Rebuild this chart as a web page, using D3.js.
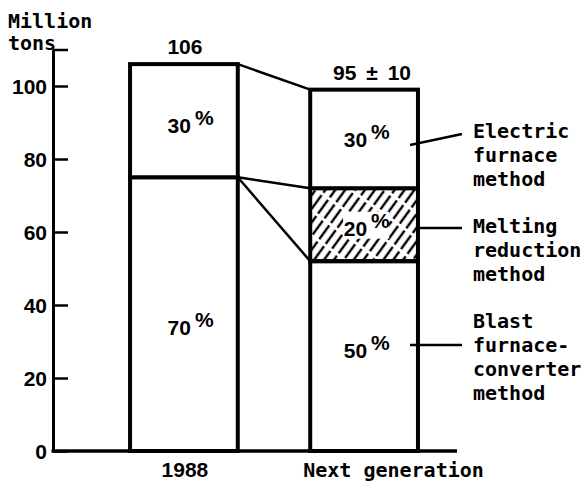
<!DOCTYPE html>
<html>
<head>
<meta charset="utf-8">
<script src="https://cdn.jsdelivr.net/npm/d3@7"></script>
<style>
  body { margin: 0; background: #fff; }
  .num { font-family: "Liberation Sans", Arial, sans-serif; font-weight: bold; font-size: 21px; }
  .pc { font-family: "Liberation Sans", Arial, sans-serif; font-weight: bold; font-size: 21px; }
  .mono { font-family: "DejaVu Sans Mono", monospace; font-weight: bold; font-size: 20px; }
</style>
</head>
<body>
<div id="chart"></div>
<script>
// data (million tons)
const categories = ["1988", "Next generation"];
const totalLabels = ["106", "95 ± 10"];
const blast = [75, 52];
const melting = [0, 20];
const electric = [31, 27];
const blastPct = ["70", "50"];
const meltingPct = [null, "20"];
const electricPct = ["30", "30"];
const yTicks = [0, 20, 40, 60, 80, 100];
const methods = [
  ["Electric", "furnace", "method"],
  ["Melting", "reduction", "method"],
  ["Blast", "furnace-", "converter", "method"]
];

const margin = {top: 0, left: 53},
    fullW = 586, fullH = 487;

const svg = d3.select("#chart")
  .append("svg")
    .attr("width", fullW)
    .attr("height", fullH);

// hatch for the melting reduction segment
svg.append("defs").append("pattern")
    .attr("id", "hatch")
    .attr("patternUnits", "userSpaceOnUse")
    .attr("width", 8).attr("height", 20)
    .attr("patternTransform", "rotate(36)")
  .append("line")
    .attr("x1", 4).attr("y1", 0).attr("x2", 4).attr("y2", 20)
    .attr("stroke", "#000").attr("stroke-width", 2.4)
    .attr("stroke-dasharray", "17 3");

const g = svg.append("g")
    .attr("transform", `translate(${margin.left},${margin.top})`);

// scales
const y = d3.scaleLinear().domain([0, 110]).range([451, 49.5]);
const x = d3.scaleBand()
    .domain(categories)
    .range([23, 419])
    .paddingInner(0.402)
    .paddingOuter(0.3);
const bw = x.bandwidth();

// stacked table
const rows = categories.map((c, i) => ({cat: c, blast: blast[i], melting: melting[i], electric: electric[i]}));
const keys = ["blast", "melting", "electric"];
const stacked = d3.stack().keys(keys)(rows);
const pct = {blast: blastPct, melting: meltingPct, electric: electricPct};

// connector lines between the bars
const s0 = stacked[0], s1 = stacked[1], s2 = stacked[2];
const conn = [
  [s2[0][1], s2[1][1]],
  [s0[0][1], s1[1][1]],
  [s0[0][1], s0[1][1]]
];
g.selectAll(".conn")
  .data(conn)
  .join("line")
    .attr("x1", x(categories[0]) + bw)
    .attr("x2", x(categories[1]))
    .attr("y1", d => y(d[0]))
    .attr("y2", d => y(d[1]))
    .attr("stroke", "#000")
    .attr("stroke-width", 2.5);

// segments
keys.forEach((k, ki) => {
  g.selectAll(".seg-" + k)
    .data(stacked[ki])
    .join("rect")
      .attr("x", d => x(d.data.cat))
      .attr("y", d => y(d[1]))
      .attr("width", bw)
      .attr("height", d => y(d[0]) - y(d[1]))
      .attr("fill", k === "melting" ? "url(#hatch)" : "#fff")
      .attr("stroke", "#000")
      .attr("stroke-width", 4);
});

// percentage labels, nudged a little like the original
const nudge = {blast: [21, 2], melting: [0, 11], electric: [12, 8]};
keys.forEach((k, ki) => {
  stacked[ki].forEach((d, i) => {
    const lab = pct[k][i];
    if (!lab) return;
    const cx = x(d.data.cat) + bw / 2 + (i === 0 ? 7 : 3);
    const cy = y((d[0] + d[1]) / 2) + nudge[k][i];
    if (k === "melting") {
      g.append("rect")
        .attr("x", cx - 24).attr("y", cy - 24)
        .attr("width", 46).attr("height", 27)
        .attr("fill", "#fff");
    }
    g.append("text").attr("class", "num")
      .attr("x", cx).attr("y", cy)
      .attr("text-anchor", "end")
      .text(lab);
    g.append("text").attr("class", "pc")
      .attr("x", cx + 4).attr("y", cy - 8)
      .text("%");
  });
});

// totals over the bars
g.selectAll(".total")
  .data(totalLabels)
  .join("text")
    .attr("class", "num")
    .attr("x", (d, i) => x(categories[i]) + bw / 2 + (i === 0 ? 1 : 8))
    .attr("y", (d, i) => y(s2[i][1]) - 10)
    .attr("text-anchor", "middle")
    .style("white-space", "pre")
    .style("word-spacing", "4px")
    .text(d => d);

// Y axis, ticks pointing inward
const yAxis = g.append("g")
    .call(d3.axisLeft(y)
      .tickValues(yTicks.concat([110]))
      .tickSizeInner(-15)
      .tickSizeOuter(0)
      .tickPadding(6)
      .tickFormat(d => d > 100 ? "" : d));
yAxis.select(".domain").attr("stroke-width", 3);
yAxis.selectAll(".tick line").attr("stroke-width", 2.5);
yAxis.selectAll(".tick text")
    .attr("class", "num")
    .attr("fill", "#000")
    .attr("dy", "0.36em");

// baseline
g.append("line")
    .attr("x1", -1.5).attr("x2", 404)
    .attr("y1", y(0)).attr("y2", y(0))
    .attr("stroke", "#000").attr("stroke-width", 3.5);

// category labels
g.append("text").attr("class", "num")
    .attr("x", x(categories[0]) + bw / 2 + 1).attr("y", 477)
    .attr("text-anchor", "middle")
    .text(categories[0]);
g.append("text").attr("class", "mono")
    .attr("x", x(categories[1]) - 7).attr("y", 477)
    .text(categories[1]);

// unit label
svg.append("text").attr("class", "mono").attr("x", 8).attr("y", 28).text("Million");
svg.append("text").attr("class", "mono").attr("x", 8).attr("y", 50).text("tons");

// method labels with leader lines
const legendY = [138, 233, 328];
const leaders = [[145, 134], [228, 228], [345, 345]];
methods.forEach((lines, i) => {
  svg.append("line")
    .attr("x1", i === 1 ? 418 : 410).attr("x2", 462)
    .attr("y1", leaders[i][0]).attr("y2", leaders[i][1])
    .attr("stroke", "#000").attr("stroke-width", 2.5);
  lines.forEach((t, j) => {
    svg.append("text").attr("class", "mono")
      .attr("x", 473).attr("y", legendY[i] + j * 24)
      .text(t);
  });
});
</script>
</body>
</html>
